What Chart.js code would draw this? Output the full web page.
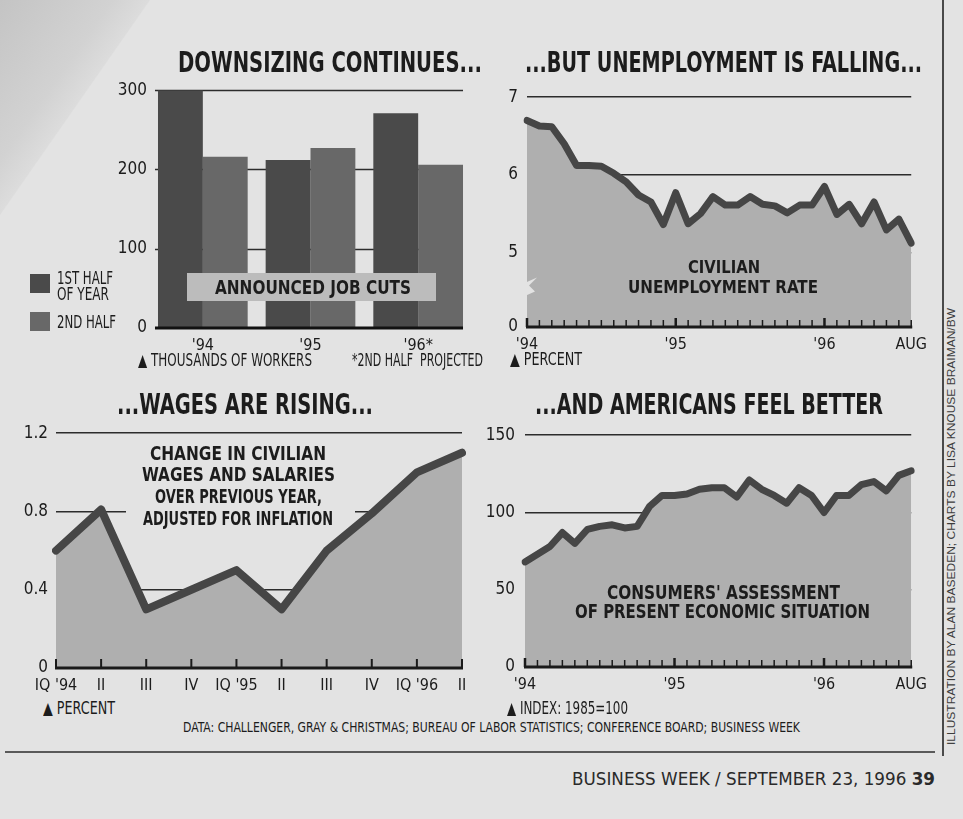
<!DOCTYPE html>
<html><head><meta charset="utf-8">
<script src="https://cdn.jsdelivr.net/npm/chart.js@4.4.1/dist/chart.umd.min.js"></script>
<style>
html,body{margin:0;padding:0;}
body{width:963px;height:819px;position:relative;overflow:hidden;background:#e3e3e3;
 font-family:'Liberation Sans Narrow','DejaVu Sans Condensed','Liberation Sans',sans-serif;color:#1c1c1c;}
canvas{position:absolute;}
.t{position:absolute;white-space:nowrap;line-height:1;transform-origin:0 0;z-index:5;}
.box{position:absolute;z-index:4;}
#curl{position:absolute;left:0;top:0;width:160px;height:230px;z-index:1;
 clip-path:polygon(0 0,150px 0,0 215px);
 background:linear-gradient(125deg,#c4c4c4 0%,#d2d2d2 35%,#ececec 65%,#fbfbfb 80%,#f2f2f2 90%,#d4d4d4 100%);}
</style></head><body>
<div id="curl"></div>
<canvas id="c1"></canvas>
<canvas id="c2"></canvas>
<canvas id="c3"></canvas>
<canvas id="c4"></canvas>
<script>
// ---------------- DATA ----------------
const jobCutYears = ["'94", "'95", "'96*"];
const jobCutsFirstHalf = [300, 212, 271];
const jobCutsSecondHalf = [216, 227, 206];
const jobCutTicks = [0, 100, 200, 300];

const months = ['Jan 1994','Feb 1994','Mar 1994','Apr 1994','May 1994','Jun 1994','Jul 1994','Aug 1994','Sep 1994','Oct 1994','Nov 1994','Dec 1994',
 'Jan 1995','Feb 1995','Mar 1995','Apr 1995','May 1995','Jun 1995','Jul 1995','Aug 1995','Sep 1995','Oct 1995','Nov 1995','Dec 1995',
 'Jan 1996','Feb 1996','Mar 1996','Apr 1996','May 1996','Jun 1996','Jul 1996','Aug 1996'];
const monthAxisLabels = {'Jan 1994': "'94", 'Jan 1995': "'95", 'Jan 1996': "'96", 'Aug 1996': 'AUG'};
const yearStartMonths = ['Jan 1994', 'Jan 1995', 'Jan 1996'];

const unemploymentRate = [6.70, 6.63, 6.62, 6.40, 6.12, 6.12, 6.11, 6.02, 5.91, 5.74, 5.65, 5.36,
 5.77, 5.37, 5.50, 5.72, 5.61, 5.61, 5.72, 5.62, 5.60, 5.51, 5.61, 5.61,
 5.85, 5.49, 5.62, 5.37, 5.65, 5.29, 5.43, 5.12];
const unemploymentTicks = [5, 6, 7];
const unemploymentAxisFloor = 4.04;   // broken axis: bottom is labelled "0"
const unemploymentFloorLabel = '0';

const quarters = ["IQ '94", 'II', 'III', 'IV', "IQ '95", 'II', 'III', 'IV', "IQ '96", 'II'];
const wageChange = [0.60, 0.81, 0.30, 0.40, 0.50, 0.30, 0.60, 0.79, 1.00, 1.10];
const wageTicks = [0, 0.4, 0.8, 1.2];

const consumerIndex = [68, 73, 78, 87, 80, 89, 91, 92, 90, 91, 104, 111,
 111, 112, 115, 116, 116, 110, 121, 115, 111, 106, 116, 111,
 100, 111, 111, 118, 120, 114, 124, 127];
const consumerTicks = [0, 50, 100, 150];

// ---------------- STYLE ----------------
const PAGE = '#e3e3e3', BAR1 = '#4a4a4a', BAR2 = '#686868', AREA = '#afafaf',
      LINE = '#464646', GRID = '#2c2c2c', TXT = '#1c1c1c';
const FONT = "'Liberation Sans Narrow','DejaVu Sans Condensed',sans-serif";
Chart.defaults.font.family = FONT;
Chart.defaults.color = TXT;
Chart.defaults.animation = false;

function placeCanvas(id, left, top, w, h){
  const c = document.getElementById(id);
  c.width = w; c.height = h; c.style.left = left + 'px'; c.style.top = top + 'px';
  c.style.width = w + 'px'; c.style.height = h + 'px';
  return c;
}

// plugin: gridlines + baseline limited to the bar extent
const barGrid = {
  id: 'barGrid',
  _ext(chart, o){
    const a = chart.getDatasetMeta(0).data[0];
    const lm = chart.getDatasetMeta(chart.data.datasets.length - 1).data;
    const b = lm[lm.length - 1];
    return [a.x - a.width / 2 - o.extendLeft, b.x + b.width / 2];
  },
  beforeDatasetsDraw(chart, args, o){
    const [l, r] = this._ext(chart, o); const ctx = chart.ctx; const y = chart.scales.y;
    ctx.save(); ctx.strokeStyle = o.color; ctx.lineWidth = o.width;
    o.lines.forEach(v => { const py = Math.round(y.getPixelForValue(v)) + 0.5;
      ctx.beginPath(); ctx.moveTo(l, py); ctx.lineTo(r, py); ctx.stroke(); });
    ctx.restore();
  },
  afterDatasetsDraw(chart, args, o){
    const [l, r] = this._ext(chart, o); const ctx = chart.ctx; const py = chart.scales.y.getPixelForValue(0);
    ctx.save(); ctx.strokeStyle = '#111'; ctx.lineWidth = o.baseWidth;
    ctx.beginPath(); ctx.moveTo(l, py); ctx.lineTo(r, py); ctx.stroke(); ctx.restore();
  }
};

// plugin: baseline with small upward ticks at each category
const upTicks = {
  id: 'upTicks',
  afterDatasetsDraw(chart, args, o){
    const x = chart.scales.x, ca = chart.chartArea, ctx = chart.ctx, y0 = ca.bottom;
    ctx.save(); ctx.strokeStyle = '#1a1a1a';
    ctx.lineWidth = o.baseWidth;
    ctx.beginPath(); ctx.moveTo(ca.left - 1, y0); ctx.lineTo(ca.right + 1, y0); ctx.stroke();
    x.ticks.forEach((t, i) => {
      const px = x.getPixelForTick(i);
      const lab = chart.data.labels[i];
      const major = o.major && o.major.includes(lab);
      ctx.lineWidth = major ? o.majorWidth : o.width;
      ctx.beginPath(); ctx.moveTo(px, y0); ctx.lineTo(px, y0 - (major ? o.majorLength : o.length)); ctx.stroke();
    });
    ctx.restore();
  }
};

// plugin: paper-coloured mask behind a text block (hides gridline under it)
const mask = {
  id: 'mask',
  beforeDatasetsDraw(chart, args, o){
    if(!o || !o.rect) return;
    const ctx = chart.ctx; ctx.save(); ctx.fillStyle = PAGE;
    ctx.fillRect(o.rect[0], o.rect[1], o.rect[2], o.rect[3]); ctx.restore();
  }
};

// plugin: axis-break notch on the left edge
const axisBreak = {
  id: 'axisBreak',
  afterDatasetsDraw(chart, args, o){
    if(!o || !o.at) return;
    const ca = chart.chartArea, ctx = chart.ctx, y = chart.scales.y.getPixelForValue(o.at), x = ca.left;
    ctx.save(); ctx.fillStyle = PAGE;
    ctx.beginPath();
    ctx.moveTo(x - 8, y - 2); ctx.lineTo(x + 10, y - 10); ctx.lineTo(x + 2, y - 2);
    ctx.lineTo(x + 8, y + 4); ctx.lineTo(x - 10, y + 12); ctx.lineTo(x - 2, y + 4); ctx.closePath();
    ctx.fill(); ctx.restore();
  }
};

// ---------------- CHART 1: job cuts ----------------
new Chart(placeCanvas('c1', 95, 78, 385, 280), {
  type: 'bar',
  data: { labels: jobCutYears, datasets: [
    { label: '1ST HALF OF YEAR', data: jobCutsFirstHalf, backgroundColor: BAR1, borderWidth: 0, categoryPercentage: 0.833, barPercentage: 1 },
    { label: '2ND HALF', data: jobCutsSecondHalf, backgroundColor: BAR2, borderWidth: 0, categoryPercentage: 0.833, barPercentage: 1 }
  ]},
  options: {
    responsive: false, animation: false,
    layout: { padding: { top: 12, right: 8, left: 0, bottom: 0 } },
    plugins: { legend: { display: false }, tooltip: { enabled: false },
      barGrid: { lines: [100, 200, 300], color: GRID, width: 1.5, extendLeft: 3, baseWidth: 3 } },
    scales: {
      x: { grid: { display: false, drawTicks: false }, border: { display: false },
           ticks: { padding: 8, font: { size: 16 }, color: TXT }, afterFit(s){ s.height = 30; } },
      y: { min: 0, max: 300, grid: { display: false, drawTicks: false }, border: { display: false },
           afterBuildTicks(s){ s.ticks = jobCutTicks.map(v => ({ value: v })); },
           ticks: { padding: 2, font: { size: 17 }, color: TXT }, afterFit(s){ s.width = 54; } }
    }
  },
  plugins: [barGrid]
});

// ---------------- line chart builder ----------------
function areaChart(id, pos, labels, values, cfg){
  return new Chart(placeCanvas(id, pos[0], pos[1], pos[2], pos[3]), {
    type: 'line',
    data: { labels: labels, datasets: [{
      data: values, borderColor: LINE, borderWidth: cfg.lineWidth, backgroundColor: AREA,
      fill: 'start', pointRadius: 0, tension: 0, borderJoinStyle: 'round', borderCapStyle: 'round' }] },
    options: {
      responsive: false, animation: false,
      layout: { padding: { top: 12, right: cfg.padRight, left: 0, bottom: 0 } },
      plugins: { legend: { display: false }, tooltip: { enabled: false },
        upTicks: cfg.upTicks, mask: cfg.mask || {}, axisBreak: cfg.axisBreak || {} },
      scales: {
        x: { type: 'category', offset: false, grid: { display: false, drawTicks: false }, border: { display: false },
             ticks: { autoSkip: false, maxRotation: 0, padding: cfg.xPad, font: { size: 16 }, color: TXT,
                      callback: cfg.xLabel },
             afterFit(s){ s.height = 30; } },
        y: { min: cfg.min, max: cfg.max, grid: { display: true, drawTicks: false, color: GRID, lineWidth: 1.5 },
             border: { display: false },
             afterBuildTicks(s){ s.ticks = cfg.ticks.map(v => ({ value: v })); },
             ticks: { padding: cfg.yPad, font: { size: 17 }, color: TXT, callback: cfg.yLabel },
             afterFit(s){ s.width = cfg.yWidth; } }
      }
    },
    plugins: [mask, upTicks, axisBreak]
  });
}

// ---------------- CHART 2: unemployment ----------------
areaChart('c2', [495, 78, 440, 279], months, unemploymentRate, {
  lineWidth: 7, padRight: 17, yWidth: 32, yPad: 9, xPad: 8,
  min: unemploymentAxisFloor, max: 7, ticks: [unemploymentAxisFloor].concat(unemploymentTicks),
  yLabel: v => (v === unemploymentAxisFloor ? unemploymentFloorLabel : String(v)),
  xLabel: (v, i) => monthAxisLabels[months[i]] || '',
  upTicks: { length: 7, width: 1.5, major: yearStartMonths, majorLength: 9, majorWidth: 2.5, baseWidth: 3 },
  axisBreak: { at: 4.55 }
});

// ---------------- CHART 3: wages ----------------
areaChart('c3', [10, 415, 470, 283], quarters, wageChange, {
  lineWidth: 8, padRight: 18, yWidth: 46, yPad: 8, xPad: 8,
  min: 0, max: 1.2, ticks: wageTicks,
  yLabel: v => (v === 0 ? '0' : v.toFixed(1)),
  xLabel: (v, i) => quarters[i],
  upTicks: { length: 9, width: 2, baseWidth: 3 },
  mask: { rect: [126 - 10, 500 - 415, 229, 13] }
});

// ---------------- CHART 4: consumers ----------------
areaChart('c4', [470, 415, 465, 282], months, consumerIndex, {
  lineWidth: 7, padRight: 17, yWidth: 55, yPad: 10, xPad: 8,
  min: 0, max: 150, ticks: consumerTicks,
  yLabel: v => String(v),
  xLabel: (v, i) => monthAxisLabels[months[i]] || '',
  upTicks: { length: 7, width: 1.5, major: yearStartMonths, majorLength: 9, majorWidth: 2.5, baseWidth: 3 }
});

// ---------------- TEXT ----------------
function addText(html, o){
  const el = document.createElement('div');
  el.className = 't';
  el.innerHTML = html;
  el.style.fontSize = o.fs + 'px';
  el.style.fontWeight = o.bold ? '700' : '400';
  if (o.family) el.style.fontFamily = o.family;
  if (o.color) el.style.color = o.color;
  document.body.appendChild(el);
  const ow = el.getBoundingClientRect().width;
  const s = o.w ? o.w / ow : 1;
  const w = ow * s;
  let left = o.x;
  if (o.align === 'center') left = o.x - w / 2; else if (o.align === 'right') left = o.x - w;
  el.style.left = left + 'px';
  el.style.top = (o.cap - 0.13 * o.fs) + 'px';
  el.style.transform = 'scaleX(' + s + ')';
  return el;
}
function addBox(x, y, w, h, bg){
  const d = document.createElement('div'); d.className = 'box';
  Object.assign(d.style, { left: x + 'px', top: y + 'px', width: w + 'px', height: h + 'px', background: bg });
  document.body.appendChild(d); return d;
}

// titles
addText('DOWNSIZING CONTINUES...', { x: 178, cap: 53, fs: 28, w: 304, bold: true });
addText('...BUT UNEMPLOYMENT IS FALLING...', { x: 525, cap: 53, fs: 28, w: 397, bold: true });
addText('...WAGES ARE RISING...', { x: 117, cap: 395, fs: 28, w: 256, bold: true });
addText('...AND AMERICANS FEEL BETTER', { x: 535, cap: 395, fs: 28, w: 348, bold: true });

// chart 1 extras
addBox(30, 274, 20, 19, BAR1);
addBox(30, 312, 20, 19, BAR2);
addText('1ST HALF', { x: 57, cap: 271, fs: 18, w: 56 });
addText('OF YEAR', { x: 57, cap: 287, fs: 18, w: 52 });
addText('2ND HALF', { x: 57, cap: 315, fs: 18, w: 59 });
addBox(187, 273, 249, 28, '#bcbcbc');
addText('ANNOUNCED JOB CUTS', { x: 215, cap: 281, fs: 19.5, w: 196, bold: true });
addText('&#9650; THOUSANDS OF WORKERS', { x: 138, cap: 354, fs: 17, w: 174 });
addText('*2ND HALF&nbsp; PROJECTED', { x: 352, cap: 354, fs: 17, w: 131 });

// chart 2 extras
addText('CIVILIAN', { x: 724, cap: 260, fs: 18.5, w: 72, bold: true, align: 'center' });
addText('UNEMPLOYMENT RATE', { x: 723, cap: 280, fs: 18.5, w: 190, bold: true, align: 'center' });
addText('&#9650; PERCENT', { x: 510, cap: 353, fs: 17, w: 72 });

// chart 3 extras
addText('CHANGE IN CIVILIAN', { x: 238, cap: 446, fs: 19, w: 176, bold: true, align: 'center' });
addText('WAGES AND SALARIES', { x: 238.5, cap: 467, fs: 19, w: 193, bold: true, align: 'center' });
addText('OVER PREVIOUS YEAR,', { x: 238.5, cap: 489, fs: 19, w: 167, bold: true, align: 'center' });
addText('ADJUSTED FOR INFLATION', { x: 238, cap: 511, fs: 19, w: 190, bold: true, align: 'center' });
addText('&#9650; PERCENT', { x: 43, cap: 702, fs: 17, w: 72 });

// chart 4 extras
addText("CONSUMERS' ASSESSMENT", { x: 723.5, cap: 585, fs: 19, w: 233, bold: true, align: 'center' });
addText('OF PRESENT ECONOMIC SITUATION', { x: 722.5, cap: 604, fs: 19, w: 295, bold: true, align: 'center' });
addText('&#9650; INDEX: 1985=100', { x: 507, cap: 702, fs: 17, w: 121 });

// footer
addText('DATA: CHALLENGER, GRAY &amp; CHRISTMAS; BUREAU OF LABOR STATISTICS; CONFERENCE BOARD; BUSINESS WEEK',
  { x: 183, cap: 722, fs: 14, w: 617 });
addBox(5, 751, 930, 2, '#5a5a5a');
addText('BUSINESS WEEK / SEPTEMBER 23, 1996 <b>39</b>', { x: 935, cap: 772, fs: 18, w: 363, align: 'right',
  family: "'Liberation Sans Narrow','DejaVu Sans Condensed',sans-serif", color: '#2a2a2a' });
addBox(942, 0, 1.5, 756, '#4a4a4a');

// rotated credit
(function(){
  const el = document.createElement('div');
  el.className = 't';
  el.textContent = 'ILLUSTRATION BY ALAN BASEDEN; CHARTS BY LISA KNOUSE BRAIMAN/BW';
  el.style.fontFamily = "'Liberation Sans','DejaVu Sans',sans-serif";
  el.style.fontSize = '11px'; el.style.color = '#3c3c3c';
  document.body.appendChild(el);
  const ow = el.getBoundingClientRect().width;
  const s = 437 / ow;
  el.style.left = (952 - 6) + 'px';
  el.style.top = '745px';
  el.style.transform = 'rotate(-90deg) scaleX(' + s + ')';
})();
</script>
</body></html>
